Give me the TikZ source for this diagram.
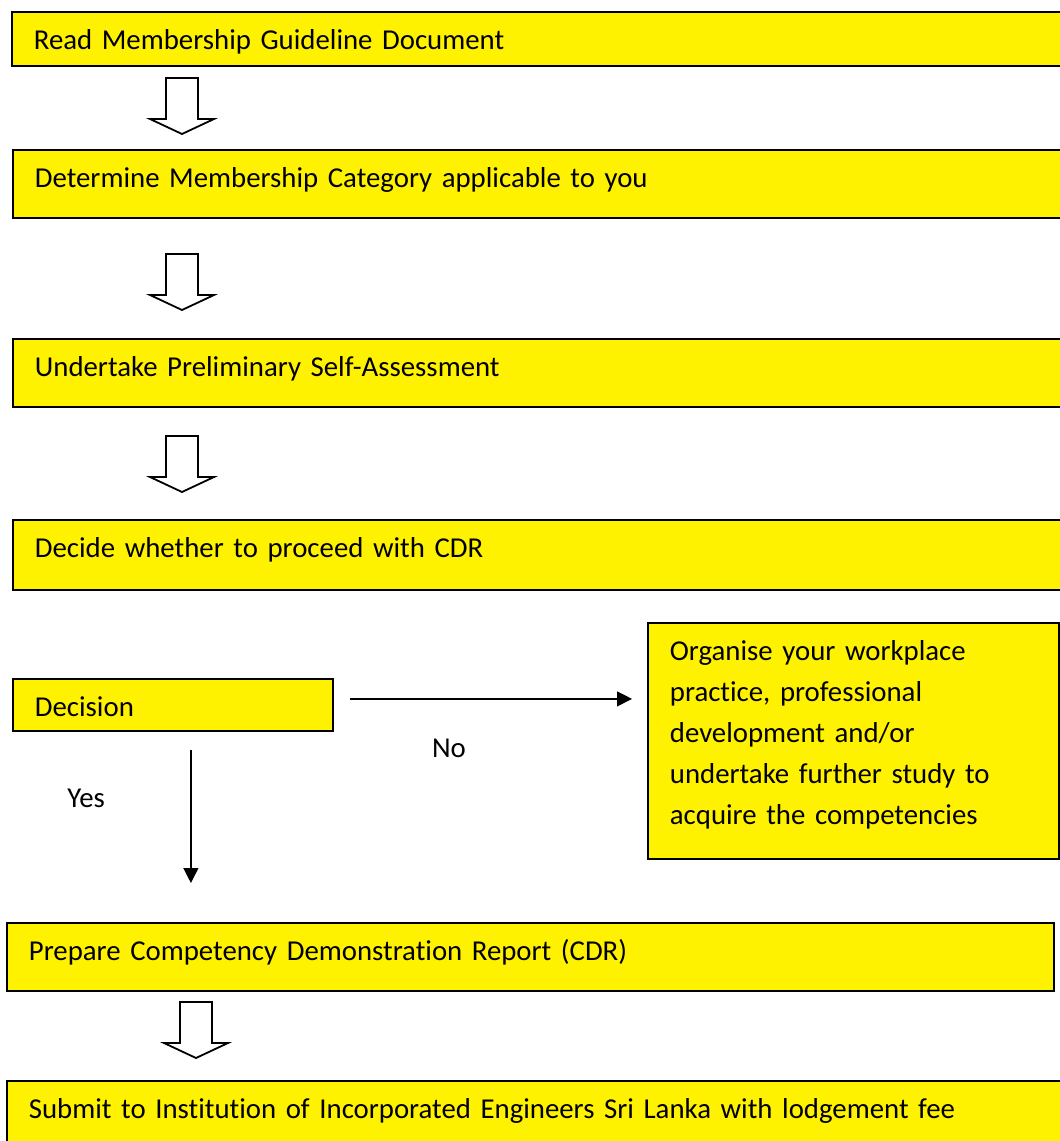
\documentclass[tikz,border=0pt]{standalone}
\usepackage{fontspec}
\setmainfont{Carlito}[Ligatures=NoCommon]
\usetikzlibrary{arrows.meta}

\tikzset{
  stepbox/.style={draw, line width=0.9pt, fill=yellow, anchor=north west,
    inner xsep=11pt, inner ysep=0pt, text height=19pt, align=left},
  hollowarrow/.style={draw, line width=0.9pt, fill=white, line join=miter},
  flowarrow/.style={-{Triangle[length=7.5pt,width=7.5pt]}, line width=0.6pt},
}

\begin{document}
\begin{tikzpicture}[x=0.5pt, y=-0.5pt, font=\fontsize{14.4}{20.5}\selectfont]
\useasboundingbox (0,0) rectangle (1060,1141);
\clip (0,0) rectangle (1060,1141);

% === Steps ===
\node[stepbox, text width=520pt, text depth=8pt]  (read)     at (11,11)   {Read Membership Guideline Document};
\node[stepbox, text width=520pt, text depth=15pt] (category) at (12,149)  {Determine Membership Category applicable to you};
\node[stepbox, text width=520pt, text depth=15pt] (selfcheck) at (12,338) {Undertake Preliminary Self-Assessment};
\node[stepbox, text width=520pt, text depth=16pt] (proceed)  at (12,519)  {Decide whether to proceed with CDR};

% === Decision ===
\node[stepbox, text width=138pt, text depth=7pt]  (decision) at (12,678)  {Decision};
\node[stepbox, text width=183.5pt, text depth=99pt] (organise) at (647,622)
  {Organise your workplace\\practice, professional\\development and/or\\undertake further study to\\acquire the competencies};

% === Report and submission ===
\node[stepbox, text width=501.5pt, text depth=15pt] (prepare) at (6,922)  {Prepare Competency Demonstration Report (CDR)};
\node[stepbox, text width=530pt, text depth=30pt]   (submit)  at (6,1080) {Submit to Institution of Incorporated Engineers Sri Lanka with lodgement fee};

% === Hollow arrows between steps ===
\foreach \cx/\ty in {182/78, 182/254, 182/436, 196/1002}{
  \draw[hollowarrow] (\cx-16,\ty) -- (\cx+16,\ty) -- (\cx+16,\ty+41) -- (\cx+32,\ty+41)
    -- (\cx,\ty+56) -- (\cx-32,\ty+41) -- (\cx-16,\ty+41) -- cycle;
}

% === Branches ===
\coordinate (nofrom) at ([xshift=8pt, yshift=3pt]decision.east);
\draw[flowarrow, shorten >=7.5pt] (nofrom) -- (nofrom -| organise.west);
\node[anchor=base] (nolabel) at (449,757) {No};

\coordinate (yesfrom) at ([xshift=9pt, yshift=-9pt]decision.south);
\draw[flowarrow, shorten >=19.5pt] (yesfrom) -- (yesfrom |- prepare.north);
\node[anchor=base west, inner sep=0pt] (yeslabel) at (67,807) {Yes};

\end{tikzpicture}
\end{document}
